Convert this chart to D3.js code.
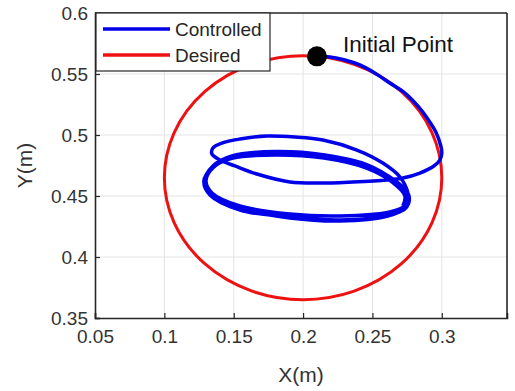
<!DOCTYPE html>
<html>
<head>
<meta charset="utf-8">
<script src="https://cdn.jsdelivr.net/npm/d3@7"></script>
<style>
  body { margin: 0; background: #fff; }
  svg text { font-family: "Liberation Sans", Arial, sans-serif; }
</style>
</head>
<body>
<div id="chart"></div>
<script>
// axis ticks
const xTicks = [0.05, 0.1, 0.15, 0.2, 0.25, 0.3];
const yTicks = [0.35, 0.4, 0.45, 0.5, 0.55, 0.6];

// desired circle: center and radius (m)
const desiredCenter = [0.2, 0.465];
const desiredRadius = 0.1;
const initialPoint = [0.21, 0.5645];

// controlled trajectory (x, y in m)
const controlledX = [
  0.2100, 0.2193, 0.2301, 0.2409, 0.2517, 0.2625, 0.2734, 0.2827, 0.2899, 0.2957, 0.2993,
  0.3000, 0.2986, 0.2943, 0.2842, 0.2719, 0.2604, 0.2359, 0.2121, 0.1905, 0.1667, 0.1509,
  0.1401, 0.1343, 0.1350, 0.1415, 0.1545, 0.1739, 0.1941, 0.2143, 0.2388, 0.2575, 0.2698,
  0.2755, 0.2748, 0.2625, 0.2265, 0.1905, 0.1545, 0.1329, 0.1285, 0.1343, 0.1473, 0.1782,
  0.2143, 0.2460, 0.2647, 0.2748, 0.2741, 0.2625, 0.2265, 0.1905, 0.1545, 0.1343, 0.1293,
  0.1350, 0.1487, 0.1797, 0.2157, 0.2467, 0.2654, 0.2762, 0.2741, 0.2611, 0.2265, 0.1905,
  0.1559, 0.1350, 0.1300, 0.1357, 0.1494, 0.1804, 0.2150, 0.2453, 0.2640, 0.2734, 0.2719
];
const controlledY = [
  0.5645, 0.5639, 0.5615, 0.5574, 0.5508, 0.5426, 0.5344, 0.5238, 0.5131, 0.5025, 0.4910,
  0.4852, 0.4795, 0.4746, 0.4688, 0.4647, 0.4631, 0.4615, 0.4606, 0.4615, 0.4680, 0.4746,
  0.4795, 0.4844, 0.4893, 0.4934, 0.4967, 0.4992, 0.4984, 0.4959, 0.4877, 0.4770, 0.4656,
  0.4525, 0.4410, 0.4344, 0.4303, 0.4328, 0.4385, 0.4508, 0.4623, 0.4729, 0.4811, 0.4844,
  0.4828, 0.4746, 0.4639, 0.4533, 0.4426, 0.4369, 0.4336, 0.4352, 0.4418, 0.4525, 0.4631,
  0.4746, 0.4828, 0.4864, 0.4836, 0.4754, 0.4631, 0.4508, 0.4402, 0.4336, 0.4295, 0.4320,
  0.4393, 0.4516, 0.4623, 0.4738, 0.4811, 0.4836, 0.4811, 0.4730, 0.4615, 0.4500, 0.4418
];

const seriesNames = ["Controlled", "Desired"];
const seriesColors = ["#0000e8", "#ee1111"];

const width = 515, height = 391;
const margin = { left: 95, top: 13, right: 8, bottom: 73 };

const svg = d3.select("#chart").append("svg")
  .attr("width", width)
  .attr("height", height);

const x = d3.scaleLinear().domain([0.05, 0.347]).range([margin.left, width - margin.right]);
const y = d3.scaleLinear().domain([0.35, 0.6]).range([height - margin.bottom, margin.top]);

const axisColor = "#262626";

// grid
svg.append("g")
  .selectAll("line")
  .data(xTicks.slice(1))
  .enter().append("line")
  .attr("x1", d => x(d)).attr("x2", d => x(d))
  .attr("y1", y(0.35)).attr("y2", y(0.6))
  .attr("stroke", "#e4e4e4").attr("stroke-width", 1);

svg.append("g")
  .selectAll("line")
  .data(yTicks.slice(1, -1))
  .enter().append("line")
  .attr("x1", x(0.05)).attr("x2", x(0.347))
  .attr("y1", d => y(d)).attr("y2", d => y(d))
  .attr("stroke", "#e4e4e4").attr("stroke-width", 1);

// desired circle
svg.append("ellipse")
  .attr("cx", x(desiredCenter[0]))
  .attr("cy", y(desiredCenter[1]))
  .attr("rx", x(desiredCenter[0] + desiredRadius) - x(desiredCenter[0]))
  .attr("ry", y(desiredCenter[1]) - y(desiredCenter[1] + desiredRadius))
  .attr("fill", "none")
  .attr("stroke", seriesColors[1])
  .attr("stroke-width", 3);

// controlled path
const pts = controlledX.map((d, i) => [d, controlledY[i]]);
const line = d3.line()
  .x(d => x(d[0]))
  .y(d => y(d[1]))
  .curve(d3.curveCatmullRom.alpha(0.5));

svg.append("path")
  .datum(pts)
  .attr("d", line)
  .attr("fill", "none")
  .attr("stroke", seriesColors[0])
  .attr("stroke-width", 3.5)
  .attr("stroke-linejoin", "round");

// initial point
svg.append("circle")
  .attr("cx", x(initialPoint[0]))
  .attr("cy", y(initialPoint[1]))
  .attr("r", 10)
  .attr("fill", "#000");

svg.append("text")
  .attr("x", x(initialPoint[0]) + 26)
  .attr("y", y(initialPoint[1]) - 4)
  .attr("font-size", 22.5)
  .attr("fill", "#111")
  .text("Initial Point");

// axes with inward ticks
const xAxis = svg.append("g")
  .attr("transform", `translate(0,${y(0.35)})`)
  .call(d3.axisBottom(x).tickValues(xTicks).tickSize(-5).tickPadding(12).tickFormat(d3.format("")));
const yAxis = svg.append("g")
  .attr("transform", `translate(${x(0.05)},0)`)
  .call(d3.axisLeft(y).tickValues(yTicks).tickSize(-5).tickPadding(7).tickFormat(d3.format("")));

[xAxis, yAxis].forEach(g => {
  g.select(".domain").attr("stroke", axisColor).attr("stroke-width", 1.6);
  g.selectAll(".tick line").attr("stroke", axisColor).attr("stroke-width", 1.2);
  g.selectAll(".tick text").attr("fill", "#333").attr("font-size", 19)
    .attr("font-family", "Liberation Sans, Arial, sans-serif");
});

// top and right box lines
svg.append("line")
  .attr("x1", x(0.05)).attr("x2", x(0.347))
  .attr("y1", y(0.6)).attr("y2", y(0.6))
  .attr("stroke", axisColor).attr("stroke-width", 1.6);
svg.append("line")
  .attr("x1", x(0.347)).attr("x2", x(0.347))
  .attr("y1", y(0.6)).attr("y2", y(0.35))
  .attr("stroke", axisColor).attr("stroke-width", 1.6);

// axis labels
svg.append("text")
  .attr("x", (x(0.05) + x(0.347)) / 2)
  .attr("y", height - 9)
  .attr("text-anchor", "middle")
  .attr("font-size", 21)
  .attr("fill", "#333")
  .text("X(m)");

svg.append("text")
  .attr("transform", `translate(32,${(y(0.35) + y(0.6)) / 2}) rotate(-90)`)
  .attr("text-anchor", "middle")
  .attr("font-size", 21)
  .attr("fill", "#333")
  .text("Y(m)");

// legend
const legend = svg.append("g").attr("transform", `translate(${x(0.05) + 1},${y(0.6)})`);
legend.append("rect")
  .attr("width", 174).attr("height", 58)
  .attr("fill", "#fff")
  .attr("stroke", axisColor).attr("stroke-width", 1.2);

seriesNames.forEach((name, i) => {
  const ly = 16 + i * 26;
  legend.append("line")
    .attr("x1", 7).attr("x2", 74)
    .attr("y1", ly).attr("y2", ly)
    .attr("stroke", seriesColors[i]).attr("stroke-width", 3.5);
  legend.append("text")
    .attr("x", 79).attr("y", ly + 7)
    .attr("font-size", 19)
    .attr("fill", "#262626")
    .text(name);
});
</script>
</body>
</html>
